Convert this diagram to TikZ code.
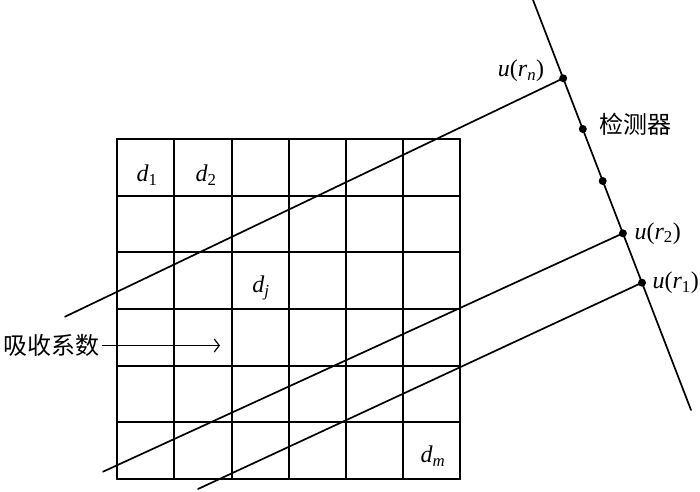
\documentclass[tikz,border=0pt]{standalone}
\usepackage{fontspec}
\setmainfont{Liberation Serif}
\newfontfamily\cjk{Noto Sans CJK SC}
\usetikzlibrary{arrows.meta}
\newcommand{\vr}[2]{\textit{#1}\textsubscript{#2}}

\begin{document}
\begin{tikzpicture}[line cap=round,line join=round,x=1pt,y=1pt,
  >={Straight Barb[length=5pt,width=13pt]},
  grd/.style={line width=2pt},
  ray/.style={line width=1.7pt},
  dot/.style={circle,fill=black,inner sep=0pt,minimum size=8pt},
  mlab/.style={font=\fontsize{24}{28}\selectfont},
  clab/.style={font=\fontsize{24}{28}\selectfont\cjk}]
\useasboundingbox (0,0) rectangle (700,491);
% grid of cells
\foreach \x in {117,174,232,289,346,403,460}
  \draw[grd] (\x,12) -- (\x,352);
\foreach \y in {12,69,125,182,239,295,352}
  \draw[grd] (117,\y) -- (460,\y);
\node[mlab] (d1) at (147,316) {\vr{d}{1}};
\node[mlab] (d2) at (206,316) {\vr{d}{2}};
\node[mlab] (dj) at (261,203) {\vr{d}{\textit{j}}};
\node[mlab] (dm) at (433,35) {\vr{d}{\textit{m}}};
% detector
\coordinate (dtop) at (533,491);
\coordinate (dbot) at (691,81);
\draw[ray] (dtop) -- (dbot);
\node[dot] (rn) at (563.2,412.7) {};
\node[dot] (p1) at (582.8,362) {};
\node[dot] (p2) at (602.7,310) {};
\node[dot] (r2) at (622.9,257.7) {};
\node[dot] (r1) at (642,208.3) {};
\node[mlab] (lrn) at (521,420) {\textit{u}(\vr{r}{\textit{n}})};
\node[mlab,anchor=west] (lr2) at (631,257.7) {\textit{u}(\vr{r}{2})};
\node[mlab,anchor=west] (lr1) at (649,208.3) {\textit{u}(\vr{r}{1})};
\node[clab] (ldet) at (635,367) {检测器};
% rays
\coordinate (sn) at (65,174.3);
\coordinate (s2) at (103,19.3);
\coordinate (s1) at (198,2);
\draw[ray] (sn) -- (rn.center);
\draw[ray] (s2) -- (r2.center);
\draw[ray] (s1) -- (r1.center);
% label with arrow
\node[clab] (abs) at (51,145.5) {吸收系数};
\coordinate (atip) at (220,145.5);
\draw[->,line width=1.2pt] (abs.east) -- (atip);
\end{tikzpicture}
\end{document}
